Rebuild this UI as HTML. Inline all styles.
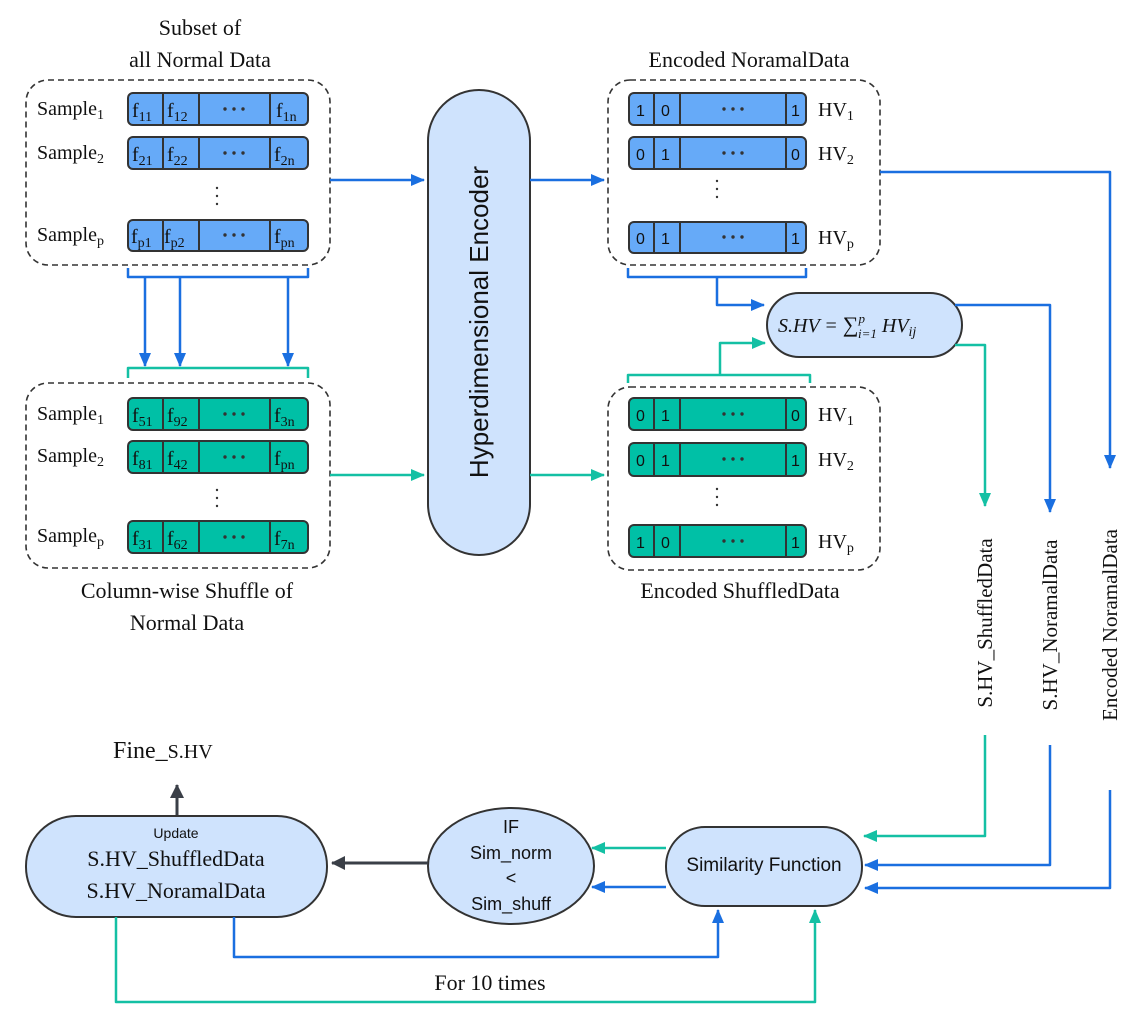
<!DOCTYPE html>
<html><head><meta charset="utf-8"><style>
body{margin:0;background:#fff}
svg text{font-family:"Liberation Serif",serif;fill:#111}
.s{font-family:"Liberation Sans",sans-serif}
</style></head><body>
<svg width="1136" height="1020" viewBox="0 0 1136 1020" xmlns="http://www.w3.org/2000/svg">
<defs>
<marker id="ab" markerWidth="14" markerHeight="14" refX="13" refY="7" orient="auto" markerUnits="userSpaceOnUse"><path d="M0,1 L14,7 L0,13 z" fill="#1a6fe0"/></marker>
<marker id="at" markerWidth="14" markerHeight="14" refX="13" refY="7" orient="auto" markerUnits="userSpaceOnUse"><path d="M0,1 L14,7 L0,13 z" fill="#14c0a4"/></marker>
<marker id="ad" markerWidth="14" markerHeight="14" refX="13" refY="7" orient="auto" markerUnits="userSpaceOnUse"><path d="M0,0 L14,7 L0,14 z" fill="#3a3f47"/></marker>
<g id="d" fill="#333"><circle cx="-9" cy="0" r="1.7"/><circle cx="0" cy="0" r="1.7"/><circle cx="9" cy="0" r="1.7"/></g>
<g id="v" fill="#333"><circle cx="0" cy="-8" r="1.2"/><circle cx="0" cy="0" r="1.2"/><circle cx="0" cy="8" r="1.2"/></g>
</defs>
<g font-size="22" text-anchor="middle">
<text x="200" y="35">Subset of</text>
<text x="200" y="67">all Normal Data</text>
<text x="749" y="67">Encoded NoramalData</text>
<text x="187" y="598">Column-wise Shuffle of</text>
<text x="187" y="630">Normal Data</text>
<text x="740" y="598">Encoded ShuffledData</text>
<text x="490" y="990">For 10 times</text>
</g>
<text x="113" y="758" font-size="24">Fine_<tspan font-size="20">S.HV</tspan></text>

<g fill="none" stroke="#333" stroke-width="1.6" stroke-dasharray="6,4">
<rect x="26" y="80" width="304" height="185" rx="22"/>
<rect x="26" y="383" width="304" height="185" rx="22"/>
<rect x="608" y="80" width="272" height="185" rx="22"/>
<rect x="608" y="387" width="272" height="183" rx="22"/>
</g>

<g stroke="#333" stroke-width="2">
<g fill="#66aaf8">
<rect x="128" y="93" width="180" height="32" rx="5"/>
<rect x="128" y="137" width="180" height="32" rx="5"/>
<rect x="128" y="220" width="180" height="31" rx="5"/>
<rect x="629" y="93" width="177" height="32" rx="5"/>
<rect x="629" y="137" width="177" height="32" rx="5"/>
<rect x="629" y="222" width="177" height="31" rx="5"/>
</g>
<g fill="#00c0a6">
<rect x="128" y="398" width="180" height="32" rx="5"/>
<rect x="128" y="441" width="180" height="32" rx="5"/>
<rect x="128" y="521" width="180" height="32" rx="5"/>
<rect x="629" y="398" width="177" height="32" rx="5"/>
<rect x="629" y="443" width="177" height="33" rx="5"/>
<rect x="629" y="525" width="177" height="32" rx="5"/>
</g>
<path d="M163,93V125M199,93V125M270,93V125M163,137V169M199,137V169M270,137V169M163,220V251M199,220V251M270,220V251
M163,398V430M199,398V430M270,398V430M163,441V473M199,441V473M270,441V473M163,521V553M199,521V553M270,521V553
M654,93V125M680,93V125M786,93V125M654,137V169M680,137V169M786,137V169M654,222V253M680,222V253M786,222V253
M654,398V430M680,398V430M786,398V430M654,443V476M680,443V476M786,443V476M654,525V557M680,525V557M786,525V557"/>
</g>
<g font-size="20">
<text x="37" y="115">Sample<tspan font-size="14" dy="4">1</tspan></text>
<text x="37" y="159">Sample<tspan font-size="14" dy="4">2</tspan></text>
<text x="37" y="241">Sample<tspan font-size="14" dy="4">p</tspan></text>
<text x="37" y="420">Sample<tspan font-size="14" dy="4">1</tspan></text>
<text x="37" y="462">Sample<tspan font-size="14" dy="4">2</tspan></text>
<text x="37" y="542">Sample<tspan font-size="14" dy="4">p</tspan></text>
</g>
<g font-size="20">
<text x="132" y="117">f<tspan font-size="14" dy="4">11</tspan></text><text x="167" y="117">f<tspan font-size="14" dy="4">12</tspan></text><text x="276" y="117">f<tspan font-size="14" dy="4">1n</tspan></text>
<text x="132" y="161">f<tspan font-size="14" dy="4">21</tspan></text><text x="167" y="161">f<tspan font-size="14" dy="4">22</tspan></text><text x="274" y="161">f<tspan font-size="14" dy="4">2n</tspan></text>
<text x="131" y="243">f<tspan font-size="14" dy="4">p1</tspan></text><text x="164" y="243">f<tspan font-size="14" dy="4">p2</tspan></text><text x="274" y="243">f<tspan font-size="14" dy="4">pn</tspan></text>
<text x="132" y="422">f<tspan font-size="14" dy="4">51</tspan></text><text x="167" y="422">f<tspan font-size="14" dy="4">92</tspan></text><text x="274" y="422">f<tspan font-size="14" dy="4">3n</tspan></text>
<text x="132" y="465">f<tspan font-size="14" dy="4">81</tspan></text><text x="167" y="465">f<tspan font-size="14" dy="4">42</tspan></text><text x="274" y="465">f<tspan font-size="14" dy="4">pn</tspan></text>
<text x="132" y="545">f<tspan font-size="14" dy="4">31</tspan></text><text x="167" y="545">f<tspan font-size="14" dy="4">62</tspan></text><text x="274" y="545">f<tspan font-size="14" dy="4">7n</tspan></text>
</g>
<g font-size="16">
<text x="636" y="116" class="s">1</text><text x="661" y="116" class="s">0</text><text x="791" y="116" class="s">1</text>
<text x="636" y="160" class="s">0</text><text x="661" y="160" class="s">1</text><text x="791" y="160" class="s">0</text>
<text x="636" y="244" class="s">0</text><text x="661" y="244" class="s">1</text><text x="791" y="244" class="s">1</text>
<text x="636" y="421" class="s">0</text><text x="661" y="421" class="s">1</text><text x="791" y="421" class="s">0</text>
<text x="636" y="466" class="s">0</text><text x="661" y="466" class="s">1</text><text x="791" y="466" class="s">1</text>
<text x="636" y="548" class="s">1</text><text x="661" y="548" class="s">0</text><text x="791" y="548" class="s">1</text>
</g>
<use href="#d" x="234" y="109"/><use href="#d" x="234" y="153"/><use href="#d" x="234" y="235"/>
<use href="#d" x="234" y="414"/><use href="#d" x="234" y="457"/><use href="#d" x="234" y="537"/>
<use href="#d" x="733" y="109"/><use href="#d" x="733" y="153"/><use href="#d" x="733" y="237"/>
<use href="#d" x="733" y="414"/><use href="#d" x="733" y="459"/><use href="#d" x="733" y="541"/>
<use href="#v" x="217" y="196"/><use href="#v" x="217" y="498"/><use href="#v" x="717" y="189"/><use href="#v" x="717" y="497"/>
<g font-size="20">
<text x="818" y="116">HV<tspan font-size="14" dy="4">1</tspan></text>
<text x="818" y="160">HV<tspan font-size="14" dy="4">2</tspan></text>
<text x="818" y="244">HV<tspan font-size="14" dy="4">p</tspan></text>
<text x="818" y="421">HV<tspan font-size="14" dy="4">1</tspan></text>
<text x="818" y="466">HV<tspan font-size="14" dy="4">2</tspan></text>
<text x="818" y="548">HV<tspan font-size="14" dy="4">p</tspan></text>
</g>

<g fill="#cfe3fd" stroke="#333" stroke-width="2">
<rect x="428" y="90" width="102" height="465" rx="51"/>
<rect x="767" y="293" width="195" height="64" rx="32"/>
<rect x="666" y="827" width="196" height="79" rx="39"/>
<ellipse cx="511" cy="866" rx="83" ry="58"/>
<rect x="26" y="816" width="301" height="101" rx="50"/>
</g>
<text class="s" font-size="26" transform="translate(488,322) rotate(-90)" text-anchor="middle">Hyperdimensional Encoder</text>
<text x="778" y="332" font-size="20" font-style="italic">S.HV = <tspan font-style="normal" font-size="22">∑</tspan><tspan font-size="13" dy="-9">p</tspan><tspan font-size="13" dx="-7" dy="15">i=1</tspan><tspan dy="-6"> HV</tspan><tspan font-size="14" dy="4">ij</tspan></text>
<text class="s" x="764" y="871" font-size="19" text-anchor="middle">Similarity Function</text>
<g font-size="18" text-anchor="middle">
<text class="s" x="511" y="833">IF</text>
<text class="s" x="511" y="859">Sim_norm</text>
<text class="s" x="511" y="884">&lt;</text>
<text class="s" x="511" y="910">Sim_shuff</text>
</g>
<text class="s" x="176" y="838" font-size="14" text-anchor="middle">Update</text>
<text x="176" y="866" font-size="22" text-anchor="middle">S.HV_ShuffledData</text>
<text x="176" y="898" font-size="22" text-anchor="middle">S.HV_NoramalData</text>

<text transform="translate(992,623) rotate(-90)" font-size="21" text-anchor="middle">S.HV_ShuffledData</text>
<text transform="translate(1057,625) rotate(-90)" font-size="21" text-anchor="middle">S.HV_NoramalData</text>
<text transform="translate(1117,625) rotate(-90)" font-size="21" text-anchor="middle">Encoded NoramalData</text>

<g fill="none" stroke-width="2.5" stroke-linejoin="round">
<g stroke="#1a6fe0">
<path d="M128,268V277H308V268"/>
<path d="M145,277V366" marker-end="url(#ab)"/>
<path d="M180,277V366" marker-end="url(#ab)"/>
<path d="M288,277V366" marker-end="url(#ab)"/>
<path d="M330,180H424" marker-end="url(#ab)"/>
<path d="M530,180H604" marker-end="url(#ab)"/>
<path d="M628,268V277H806V268"/>
<path d="M717,277V305H764" marker-end="url(#ab)"/>
<path d="M880,172H1110V468" marker-end="url(#ab)"/>
<path d="M1110,790V888H865" marker-end="url(#ab)"/>
<path d="M955,305H1050V512" marker-end="url(#ab)"/>
<path d="M1050,745V865H865" marker-end="url(#ab)"/>
<path d="M666,887H592" marker-end="url(#ab)"/>
<path d="M234,917V957H718V910" marker-end="url(#ab)"/>
</g>
<g stroke="#14c0a4">
<path d="M128,378V368H308V378"/>
<path d="M330,475H424" marker-end="url(#at)"/>
<path d="M530,475H604" marker-end="url(#at)"/>
<path d="M628,383V375H810V383"/>
<path d="M720,375V343H765" marker-end="url(#at)"/>
<path d="M955,345H985V506" marker-end="url(#at)"/>
<path d="M985,735V836H864" marker-end="url(#at)"/>
<path d="M666,848H592" marker-end="url(#at)"/>
<path d="M116,917V1002H815V910" marker-end="url(#at)"/>
</g>
<g stroke="#3a3f47" stroke-width="3">
<path d="M428,863H332" marker-end="url(#ad)"/>
<path d="M177,815V785" marker-end="url(#ad)"/>
</g>
</g>
</svg>
</body></html>
